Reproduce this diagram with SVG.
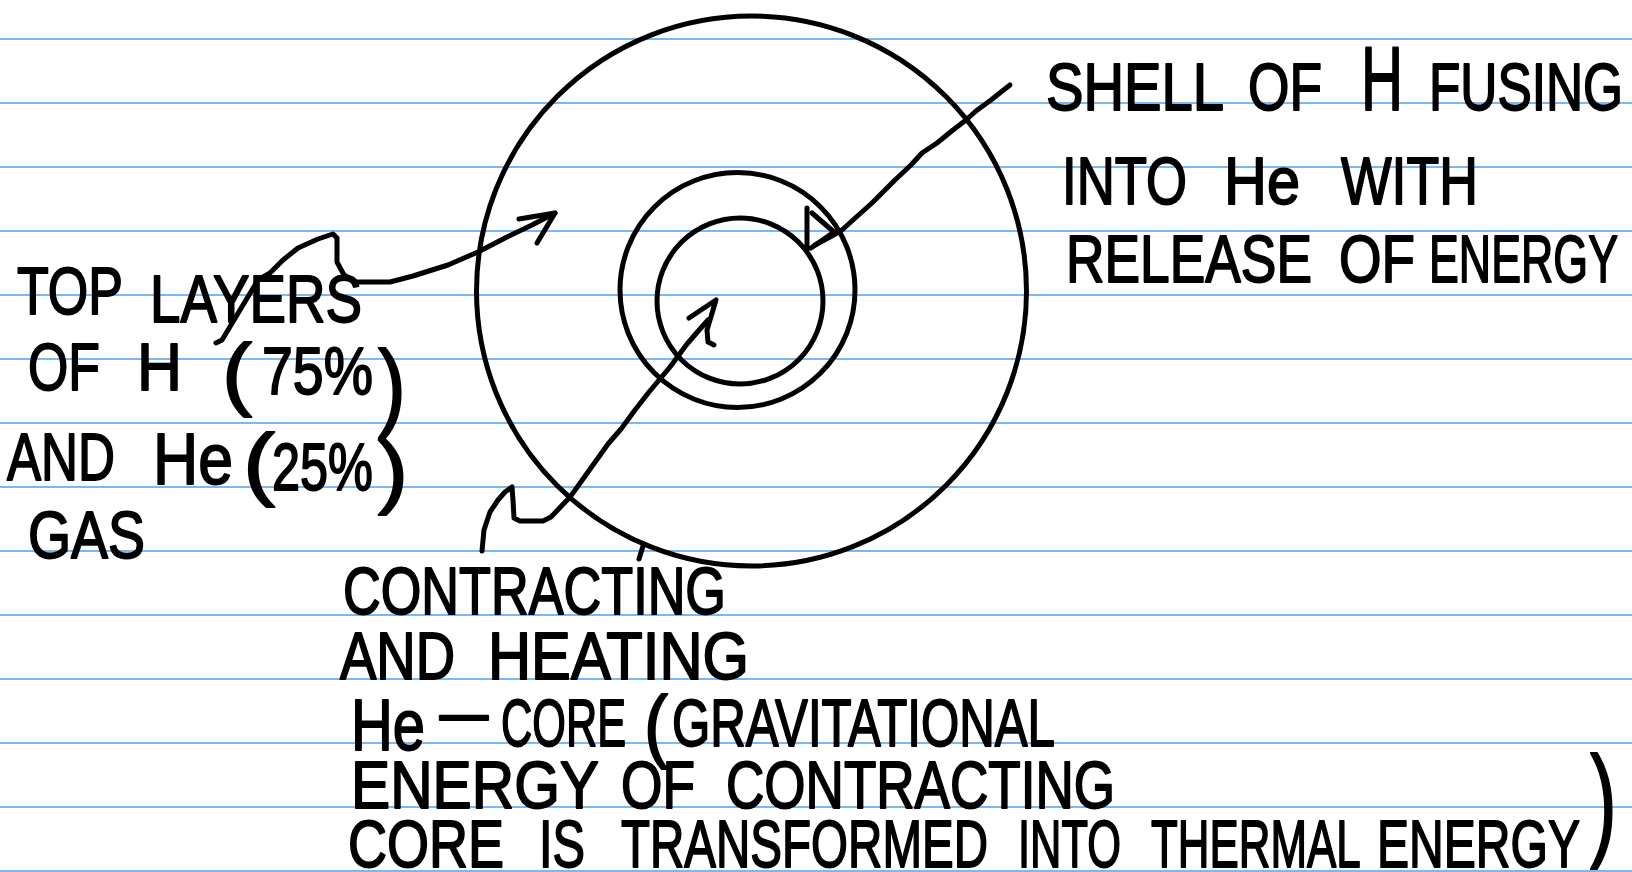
<svg xmlns="http://www.w3.org/2000/svg" width="1632" height="872" viewBox="0 0 1632 872">
<style>
.rule{stroke:#4ea1f2;stroke-width:1.6}
.ink{fill:none;stroke:#000;stroke-width:5;stroke-linecap:round;stroke-linejoin:round}
.t{font-family:"Liberation Sans",Arial,sans-serif;font-size:66px;fill:#000;stroke:#000;stroke-width:1.8;stroke-linejoin:round}
</style>
<rect width="1632" height="872" fill="#fff"/>
<g id="paper">
<line class="rule" x1="0" y1="39" x2="1632" y2="39"/>
<line class="rule" x1="0" y1="103" x2="1632" y2="103"/>
<line class="rule" x1="0" y1="167" x2="1632" y2="167"/>
<line class="rule" x1="0" y1="231" x2="1632" y2="231"/>
<line class="rule" x1="0" y1="295" x2="1632" y2="295"/>
<line class="rule" x1="0" y1="359" x2="1632" y2="359"/>
<line class="rule" x1="0" y1="423" x2="1632" y2="423"/>
<line class="rule" x1="0" y1="487" x2="1632" y2="487"/>
<line class="rule" x1="0" y1="551" x2="1632" y2="551"/>
<line class="rule" x1="0" y1="615" x2="1632" y2="615"/>
<line class="rule" x1="0" y1="679" x2="1632" y2="679"/>
<line class="rule" x1="0" y1="743" x2="1632" y2="743"/>
<line class="rule" x1="0" y1="807" x2="1632" y2="807"/>
<line class="rule" x1="0" y1="871" x2="1632" y2="871"/>
</g>
<g id="star">
<circle id="outer-layers" class="ink" cx="751.5" cy="291" r="275"/>
<circle id="h-shell" class="ink" cx="737.5" cy="290" r="117.5"/>
<circle id="he-core" class="ink" cx="740" cy="301" r="83"/>
</g>
<g id="connectors">
<path class="ink" d="M216 343 L222 340 L240 310 L258 280 L270 273 L283 260 L298 248 L318 239 L333 234 L337 238 L337 262 L344 275 L356 282 L390 282 L413 276 L448 265 L478 252 L505 238 L532 225 L555 213"/>
<path class="ink" d="M519 219 L555 213 L537 243"/>
<path class="ink" d="M1010 85 L1001 92 L991 100 L976 111 L966 120 L953 130 L937 143 L922 153 L911 165 L895 180 L872 203 L853 220 L842 230 L830 237 L815 245"/>
<path class="ink" d="M807 208 L807 250 M812 213 L834 232 L811 248"/>
<path class="ink" d="M482 551 L484 530 L490 512 L498 500 L505 492 L512 487 L513 500 L514 518 L520 521 L543 521 L551 517 L570 497 L578 486 L593 465 L608 444 L621 429 L635 410 L649 392 L670 367 L687 344 L700 329 L708 320"/>
<path class="ink" d="M689 318 L716 300 L707 330 L708 342 L714 345"/>
<path class="ink" d="M643 546 L639 559"/>
</g>
<g id="label-shell">
<text class="t" y="110"><tspan x="1046" textLength="176" lengthAdjust="spacingAndGlyphs">SHELL</tspan> <tspan x="1248" textLength="74" lengthAdjust="spacingAndGlyphs">OF</tspan> <tspan x="1361" textLength="42" lengthAdjust="spacingAndGlyphs" style="font-size:90px">H</tspan> <tspan x="1429" textLength="194" lengthAdjust="spacingAndGlyphs">FUSING</tspan></text>
<text class="t" y="204"><tspan x="1062" textLength="125" lengthAdjust="spacingAndGlyphs">INTO</tspan> <tspan x="1224" textLength="76" lengthAdjust="spacingAndGlyphs">He</tspan> <tspan x="1341" textLength="137" lengthAdjust="spacingAndGlyphs">WITH</tspan></text>
<text class="t" y="282"><tspan x="1066" textLength="246" lengthAdjust="spacingAndGlyphs">RELEASE</tspan> <tspan x="1339" textLength="76" lengthAdjust="spacingAndGlyphs">OF</tspan> <tspan x="1429" textLength="189" lengthAdjust="spacingAndGlyphs">ENERGY</tspan></text>
</g>
<g id="label-top-layers">
<text class="t" y="314"><tspan x="17" textLength="105" lengthAdjust="spacingAndGlyphs">TOP</tspan> <tspan x="150" y="322" textLength="212" lengthAdjust="spacingAndGlyphs">LAYERS</tspan></text>
<text class="t" y="390"><tspan x="28" textLength="72" lengthAdjust="spacingAndGlyphs">OF</tspan> <tspan x="137" textLength="45" lengthAdjust="spacingAndGlyphs">H</tspan> <tspan x="222" y="400" textLength="30" lengthAdjust="spacingAndGlyphs" style="font-size:80px">(</tspan><tspan x="262" y="394" textLength="111" lengthAdjust="spacingAndGlyphs">75%</tspan><tspan x="378" y="418" textLength="28" lengthAdjust="spacingAndGlyphs" style="font-size:97px">)</tspan></text>
<text class="t" y="480"><tspan x="7" textLength="108" lengthAdjust="spacingAndGlyphs">AND</tspan> <tspan x="153" y="484" textLength="80" lengthAdjust="spacingAndGlyphs" style="font-size:72px">He</tspan> <tspan x="243" y="490" textLength="32" lengthAdjust="spacingAndGlyphs" style="font-size:80px">(</tspan><tspan x="272" y="490" textLength="101" lengthAdjust="spacingAndGlyphs">25%</tspan><tspan x="378" y="498" textLength="30" lengthAdjust="spacingAndGlyphs" style="font-size:80px">)</tspan></text>
<text class="t" y="558"><tspan x="28" textLength="117" lengthAdjust="spacingAndGlyphs">GAS</tspan></text>
</g>
<g id="label-core">
<text class="t" y="614"><tspan x="343" textLength="383" lengthAdjust="spacingAndGlyphs">CONTRACTING</tspan></text>
<text class="t" y="679"><tspan x="340" textLength="115" lengthAdjust="spacingAndGlyphs">AND</tspan> <tspan x="488" textLength="261" lengthAdjust="spacingAndGlyphs">HEATING</tspan></text>
<text class="t" y="746"><tspan x="351" y="750" textLength="74" lengthAdjust="spacingAndGlyphs" style="font-size:72px">He</tspan> <tspan x="440" y="735" textLength="48" lengthAdjust="spacingAndGlyphs">–</tspan> <tspan x="501" y="746" textLength="125" lengthAdjust="spacingAndGlyphs">CORE</tspan> <tspan x="644" y="752" textLength="24" lengthAdjust="spacingAndGlyphs" style="font-size:80px">(</tspan><tspan x="672" y="746" textLength="383" lengthAdjust="spacingAndGlyphs">GRAVITATIONAL</tspan></text>
<text class="t" y="808"><tspan x="351" textLength="247" lengthAdjust="spacingAndGlyphs">ENERGY</tspan> <tspan x="621" textLength="74" lengthAdjust="spacingAndGlyphs">OF</tspan> <tspan x="726" textLength="389" lengthAdjust="spacingAndGlyphs">CONTRACTING</tspan></text>
<text class="t" y="867"><tspan x="348" textLength="156" lengthAdjust="spacingAndGlyphs">CORE</tspan> <tspan x="539" textLength="46" lengthAdjust="spacingAndGlyphs">IS</tspan> <tspan x="621" textLength="367" lengthAdjust="spacingAndGlyphs">TRANSFORMED</tspan> <tspan x="1018" textLength="103" lengthAdjust="spacingAndGlyphs">INTO</tspan> <tspan x="1151" textLength="208" lengthAdjust="spacingAndGlyphs">THERMAL</tspan> <tspan x="1377" textLength="203" lengthAdjust="spacingAndGlyphs">ENERGY</tspan><tspan x="1590" y="843" textLength="27" lengthAdjust="spacingAndGlyphs" style="font-size:125px">)</tspan></text>
</g>
</svg>
